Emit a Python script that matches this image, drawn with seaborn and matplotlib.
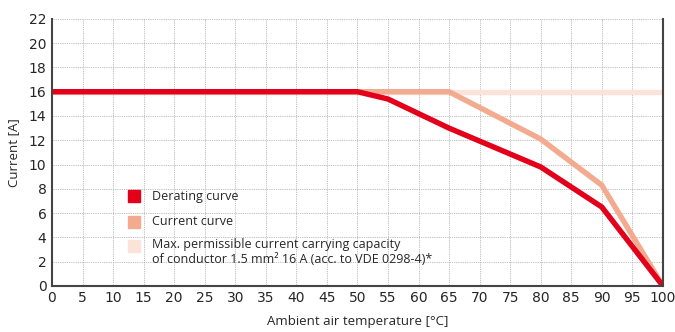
import numpy as np
import pandas as pd
import matplotlib
matplotlib.use("Agg")
import matplotlib.pyplot as plt
import seaborn as sns

# data
derate_t = [0, 50, 55, 65, 80, 90, 100]
derate_i = [16, 16, 15.4, 13.0, 9.8, 6.5, 0]
current_t = [0, 65, 80, 90, 100]
current_i = [16, 16, 12.1, 8.3, 0]
maxcap_t = [0, 100]
maxcap_i = [16, 16]

labels = ["Derating curve", "Current curve",
          "Max. permissible current carrying capacity\nof conductor 1.5 mm² 16 A (acc. to VDE 0298-4)*"]
colors = ["#e2001a", "#f3ab90", "#fce3d9"]

sns.set_style("white")
plt.rcParams["font.family"] = ["Liberation Sans Narrow", "DejaVu Sans"]

fig = plt.figure(figsize=(6.75, 3.32), dpi=100)
ax = fig.add_axes([0.077, 0.139, 0.905, 0.804])

series = [(maxcap_t, maxcap_i), (current_t, current_i), (derate_t, derate_i)]
for (t, i), c in zip(series, colors[::-1]):
    df = pd.DataFrame({"t": t, "i": i})
    sns.lineplot(data=df, x="t", y="i", color=c, lw=3.9, ax=ax,
                 solid_joinstyle="miter", solid_capstyle="butt")

ax.set_xlim(0, 100)
ax.set_ylim(0, 22)
ax.set_xticks(np.arange(0, 101, 5))
ax.set_yticks(np.arange(0, 23, 2))
ax.grid(True, color="#a8a8a8", ls=(0, (1, 1.2)), lw=0.6)
ax.set_axisbelow(True)
for s in ["left", "bottom", "right"]:
    ax.spines[s].set_color("#444444")
    ax.spines[s].set_linewidth(1.5)
ax.spines["top"].set_visible(False)
ax.tick_params(axis="both", direction="out", length=3, width=1, color="#444444",
               labelsize=10, pad=1)
ax.set_xlabel("Ambient air temperature [°C]", fontsize=9.5, family="Open Sans", labelpad=7)
ax.set_ylabel("Current [A]", fontsize=9.5, family="Open Sans", labelpad=6)

# legend
ys = [0.335, 0.240, 0.150]
for y, c, lab in zip(ys, colors, labels):
    ax.plot([0.135], [y], marker="s", ms=8, color=c, transform=ax.transAxes, ls="none")
    if "\n" in lab:
        ax.text(0.163, y + 0.028, lab, transform=ax.transAxes, fontsize=9,
                family="Open Sans", va="top", ha="left", linespacing=1.15)
    else:
        ax.text(0.163, y, lab, transform=ax.transAxes, fontsize=9,
                family="Open Sans", va="center", ha="left")

fig.savefig("out.png", dpi=100)
